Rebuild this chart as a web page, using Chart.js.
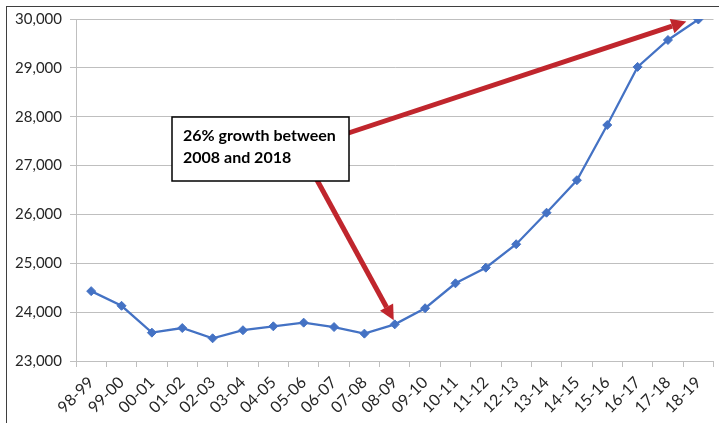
<!DOCTYPE html>
<html>
<head>
<meta charset="utf-8">
<script src="https://cdn.jsdelivr.net/npm/chart.js@4.4.1/dist/chart.umd.min.js"></script>
<style>
    html, body { margin: 0; padding: 0; background: #ffffff; overflow: hidden; }
    #wrap { position: relative; width: 719px; height: 423px; }
    #frame { position: absolute; left: 6px; top: 6px; width: 740px; height: 440px; border: 1.5px solid #3f3f3f; box-sizing: border-box; }
    canvas { position: absolute; left: 0; top: 0; }
</style>
</head>
<body>
<div id="wrap">
    <div id="frame"></div>
    <canvas id="chart" width="719" height="423"></canvas>
</div>
<script>
const years = ['98-99', '99-00', '00-01', '01-02', '02-03', '03-04', '04-05', '05-06', '06-07', '07-08',
    '08-09', '09-10', '10-11', '11-12', '12-13', '13-14', '14-15', '15-16', '16-17', '17-18', '18-19'];
const students = [24430, 24130, 23580, 23675, 23465, 23630, 23710, 23785, 23695, 23560,
    23750, 24080, 24590, 24910, 25390, 26035, 26700, 27830, 29020, 29570, 29990];
const yTicks = [23000, 24000, 25000, 26000, 27000, 28000, 29000, 30000];
const noteLines = ['26% growth between', '2008 and 2018'];
const arrowFrom = '08-09';
const arrowTo = '18-19';

const red = '#c0262d';
const blue = '#4472c4';

function drawArrow(ctx, x1, y1, x2, y2) {
    const ang = Math.atan2(y2 - y1, x2 - x1);
    const headLen = 15;
    const headW = 7.5;
    const bx = x2 - headLen * Math.cos(ang);
    const by = y2 - headLen * Math.sin(ang);

    ctx.strokeStyle = red;
    ctx.lineWidth = 5;
    ctx.beginPath();
    ctx.moveTo(x1, y1);
    ctx.lineTo(bx, by);
    ctx.stroke();

    ctx.fillStyle = red;
    ctx.beginPath();
    ctx.moveTo(x2, y2);
    ctx.lineTo(bx + headW * Math.sin(ang), by - headW * Math.cos(ang));
    ctx.lineTo(bx - headW * Math.sin(ang), by + headW * Math.cos(ang));
    ctx.closePath();
    ctx.fill();
}

// callout box + two arrows pointing at the 2008 and 2018 points
const notePlugin = {
    id: 'note',
    afterDatasetsDraw: function(chart) {
        const ctx = chart.ctx;
        const xs = chart.scales.x;
        const ys = chart.scales.y;
        const area = chart.chartArea;

        const boxX = area.left + 96;
        const boxY = area.top + 98;
        const boxW = 177;
        const boxH = 64;
        const tailX = boxX + 128;
        const tailY = boxY + boxH / 2;

        const i1 = years.indexOf(arrowFrom);
        const i2 = years.indexOf(arrowTo);
        const p1x = xs.getPixelForValue(i1);
        const p1y = ys.getPixelForValue(students[i1]);
        const p2x = xs.getPixelForValue(i2);
        const p2y = ys.getPixelForValue(students[i2]);

        ctx.save();
        drawArrow(ctx, tailX, tailY, p1x - 1, p1y - 4);
        drawArrow(ctx, tailX, tailY, p2x - 12, p2y + 2);

        ctx.fillStyle = '#ffffff';
        ctx.fillRect(boxX, boxY, boxW, boxH);
        ctx.strokeStyle = '#000000';
        ctx.lineWidth = 1.5;
        ctx.strokeRect(boxX, boxY, boxW, boxH);

        ctx.fillStyle = '#000000';
        ctx.font = 'bold 16px Lato, "Open Sans", sans-serif';
        ctx.textBaseline = 'alphabetic';
        ctx.textAlign = 'left';
        noteLines.forEach(function(line, k) {
            ctx.fillText(line, boxX + 11, boxY + 24 + k * 22);
        });
        ctx.restore();
    }
};

const ctx = document.getElementById('chart').getContext('2d');

new Chart(ctx, {
    type: 'line',
    data: {
        labels: years,
        datasets: [
            {
                data: students,
                borderColor: blue,
                backgroundColor: blue,
                borderWidth: 2.25,
                pointStyle: 'rectRot',
                pointRadius: 4.5,
                pointBorderWidth: 1,
                tension: 0
            }
        ]
    },
    options: {
        responsive: false,
        animation: false,
        layout: { padding: { top: 19, right: 3, left: 0, bottom: 0 } },
        plugins: {
            legend: { display: false },
            tooltip: { enabled: false }
        },
        scales: {
            x: {
                offset: true,
                grid: {
                    offset: true,
                    drawOnChartArea: false,
                    drawTicks: true,
                    tickLength: 6,
                    color: '#bfbfbf',
                    lineWidth: 1
                },
                border: { color: '#bfbfbf', width: 1 },
                ticks: {
                    color: '#262626',
                    font: { family: 'Lato, "Open Sans", sans-serif', size: 16 },
                    minRotation: 45,
                    maxRotation: 45,
                    autoSkip: false,
                    padding: 6
                },
                afterFit: function(scale) {
                    scale.height = 62;
                }
            },
            y: {
                min: 23000,
                max: 30000,
                afterBuildTicks: function(scale) {
                    scale.ticks = yTicks.map(function(v) { return { value: v }; });
                },
                grid: {
                    color: '#bfbfbf',
                    lineWidth: 1,
                    tickLength: 6
                },
                border: { color: '#bfbfbf', width: 1 },
                ticks: {
                    color: '#262626',
                    font: { family: 'Lato, "Open Sans", sans-serif', size: 15 },
                    padding: 8,
                    callback: function(v) {
                        return v.toLocaleString('en-US');
                    }
                },
                afterFit: function(scale) {
                    scale.width = 76;
                }
            }
        }
    },
    plugins: [notePlugin]
});
</script>
</body>
</html>
